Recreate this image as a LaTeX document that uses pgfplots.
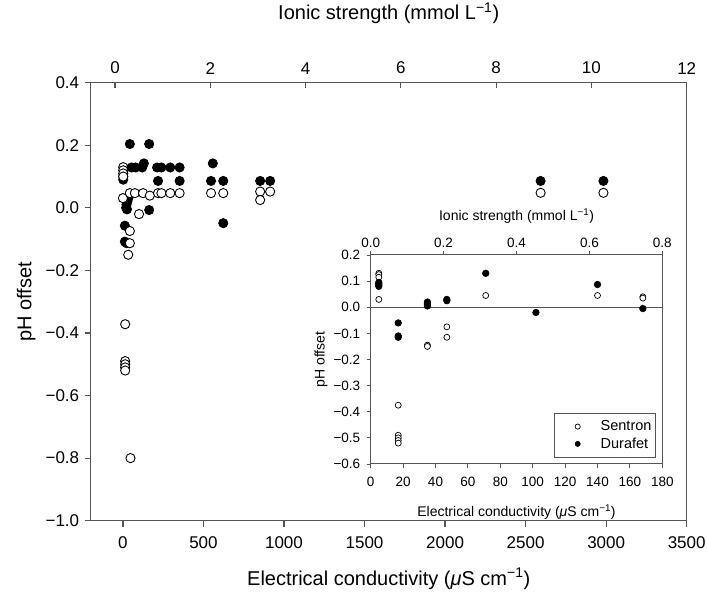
\documentclass[border=0pt]{standalone}
\usepackage{fontspec}
\setmainfont{Liberation Sans}
\usepackage{pgfplots}
\pgfplotsset{compat=1.18}
\definecolor{axgray}{HTML}{555555}
\pgfplotsset{widelegend/.style={legend image code/.code={\draw[mark repeat=2, mark phase=2, ##1, draw=none, mark size=2.6pt] plot coordinates {(0pt,0pt) (21pt,0pt) (42pt,0pt)};}}}

\pgfplotstableread{
x y
2 0.13
2 0.12
2 0.11
2 0.10
0 0.031
14 -0.372
14 -0.49
14 -0.50
14 -0.51
14 -0.52
47 -0.80
33 -0.15
43 -0.113
43 -0.074
100 -0.02
43 0.047
74 0.047
125 0.047
167 0.039
218 0.047
239 0.047
294 0.047
352 0.047
547 0.047
623 0.047
852 0.052
914 0.052
852 0.025
2593 0.048
2983 0.048
}\mainsentron

\pgfplotstableread{
x y
43 0.204
163 0.204
53 0.129
79 0.129
120 0.129
130 0.142
212 0.129
239 0.129
294 0.129
352 0.129
558 0.142
218 0.086
352 0.086
547 0.086
623 0.086
852 0.086
914 0.086
163 -0.007
623 -0.049
2 0.09
2 0.10
33 0.03
28 0.02
22 0.01
20 0.0
25 -0.005
12 -0.057
12 -0.108
22 -0.113
2593 0.086
2983 0.086
}\maindurafet

\pgfplotstableread{
x y
5 0.13
5 0.125
5 0.115
5 0.03
17 -0.375
17 -0.49
17 -0.50
17 -0.51
17 -0.52
35 -0.145
35 -0.15
47 -0.075
47 -0.115
71 0.045
140 0.045
168 0.04
168 0.035
}\insetsentron

\pgfplotstableread{
x y
5 0.095
5 0.09
5 0.085
5 0.08
17 -0.06
17 -0.11
17 -0.115
35 0.02
35 0.015
35 0.01
35 0.005
47 0.03
47 0.025
71 0.13
102 -0.02
140 0.087
168 -0.005
}\insetdurafet

\begin{document}
\begin{tikzpicture}
\useasboundingbox (0pt,0pt) rectangle (707pt,594pt);
% ---------------- main axis
\begin{axis}[
  at={(90.7pt,73.3pt)}, anchor=south west,
  width=596pt, height=438pt, scale only axis,
  xmin=-200, xmax=3500, ymin=-1.0, ymax=0.4,
  axis line style={axgray, line width=1.4pt},
  tick style={axgray, line width=1.2pt},
  major tick length=6pt,
  tick align=outside,
  xtick pos=bottom, ytick pos=left,
  xtick={0,500,1000,1500,2000,2500,3000,3500},
  xticklabels={0,500,1000,1500,2000,2500,3000,3500},
  ytick={-1,-0.8,-0.6,-0.4,-0.2,0,0.2,0.4},
  yticklabels={−1.0,−0.8,−0.6,−0.4,−0.2,0.0,0.2,0.4},
  ticklabel style={font=\fontsize{17}{19}\selectfont},
  xticklabel style={yshift=-6pt},
  yticklabel style={xshift=-2pt},
  xlabel={Electrical conductivity (\textit{μ}S cm\textsuperscript{−1})},
  xlabel style={font=\fontsize{20}{24}\selectfont, at={(axis description cs:0.5,-0.133)}, anchor=center},
  ylabel={pH offset},
  ylabel style={font=\fontsize{20}{24}\selectfont, at={(axis description cs:-0.108,0.5)}, anchor=center},
  clip=false,
]
\addplot[only marks, mark=*, mark size=4.6pt, mark options={draw=black, fill=black, line width=0.8pt}] table {\maindurafet};
\addplot[only marks, mark=*, mark size=4.6pt, mark options={draw=black, fill=white, line width=0.9pt}] table {\mainsentron};
\end{axis}
% ---------------- main top axis
\begin{axis}[
  at={(90.7pt,73.3pt)}, anchor=south west,
  width=596pt, height=438pt, scale only axis,
  xmin=-0.51, xmax=12, ymin=0, ymax=1,
  axis x line*=top, axis y line=none,
  axis line style={axgray, line width=1.4pt},
  tick style={axgray, line width=1.2pt},
  major tick length=5pt,
  tick align=inside,
  xtick={0,2,4,6,8,10,12},
  xticklabels={0,2,4,6,8,10,12},
  ticklabel style={font=\fontsize{17}{19}\selectfont},
  xticklabel style={yshift=5pt},
  xlabel={Ionic strength (mmol L\textsuperscript{−1})},
  xlabel style={font=\fontsize{20}{24}\selectfont, at={(axis description cs:0.5,1.159)}, anchor=center},
]
\end{axis}
% ---------------- inset axis
\begin{axis}[
  at={(370.7pt,130pt)}, anchor=south west,
  width=291.6pt, height=209pt, scale only axis,
  xmin=0, xmax=180, ymin=-0.6, ymax=0.2,
  axis line style={axgray, line width=1.0pt},
  tick style={axgray, line width=0.9pt},
  major tick length=4pt,
  tick align=outside,
  xtick pos=bottom, ytick pos=left,
  xtick={0,20,40,60,80,100,120,140,160,180},
  xticklabels={0,20,40,60,80,100,120,140,160,180},
  ytick={-0.6,-0.5,-0.4,-0.3,-0.2,-0.1,0,0.1,0.2},
  yticklabels={−0.6,−0.5,−0.4,−0.3,−0.2,−0.1,0.0,0.1,0.2},
  ticklabel style={font=\fontsize{13.5}{16}\selectfont},
  xticklabel style={yshift=-6pt},
  yticklabel style={xshift=-3pt},
  xlabel={Electrical conductivity (\textit{μ}S cm\textsuperscript{−1})},
  xlabel style={font=\fontsize{14}{17}\selectfont, at={(axis description cs:0.5,-0.230)}, anchor=center},
  ylabel={pH offset},
  ylabel style={font=\fontsize{14}{17}\selectfont, at={(axis description cs:-0.170,0.5)}, anchor=center},
  legend style={at={(0.978,0.032)}, anchor=south east, draw=axgray, line width=0.8pt,
    font=\fontsize{14.5}{17}\selectfont, inner xsep=2pt, inner ysep=5pt, row sep=1.5pt},
  legend cell align=left,
]
\addplot[axgray, line width=0.9pt, forget plot] coordinates {(0,0) (180,0)};
\addplot[draw=none, mark=*, mark size=3pt, mark options={draw=black, fill=white, line width=0.7pt}, widelegend] table {\insetsentron};
\addlegendentry{Sentron}
\addplot[draw=none, mark=*, mark size=3.3pt, mark options={draw=black, fill=black, line width=0.6pt}, widelegend] table {\insetdurafet};
\addlegendentry{Durafet}
\end{axis}
% ---------------- inset top axis
\begin{axis}[
  at={(370.7pt,130pt)}, anchor=south west,
  width=291.6pt, height=209pt, scale only axis,
  xmin=0, xmax=0.8, ymin=0, ymax=1,
  axis x line*=top, axis y line=none,
  axis line style={axgray, line width=1.0pt},
  tick style={axgray, line width=0.9pt},
  major tick length=4pt,
  tick align=outside,
  xtick={0,0.2,0.4,0.6,0.8},
  xticklabels={0.0,0.2,0.4,0.6,0.8},
  ticklabel style={font=\fontsize{13.5}{16}\selectfont},
  xlabel={Ionic strength (mmol L\textsuperscript{−1})},
  xlabel style={font=\fontsize{14}{17}\selectfont, at={(axis description cs:0.5,1.187)}, anchor=center},
]
\end{axis}
\end{tikzpicture}
\end{document}
